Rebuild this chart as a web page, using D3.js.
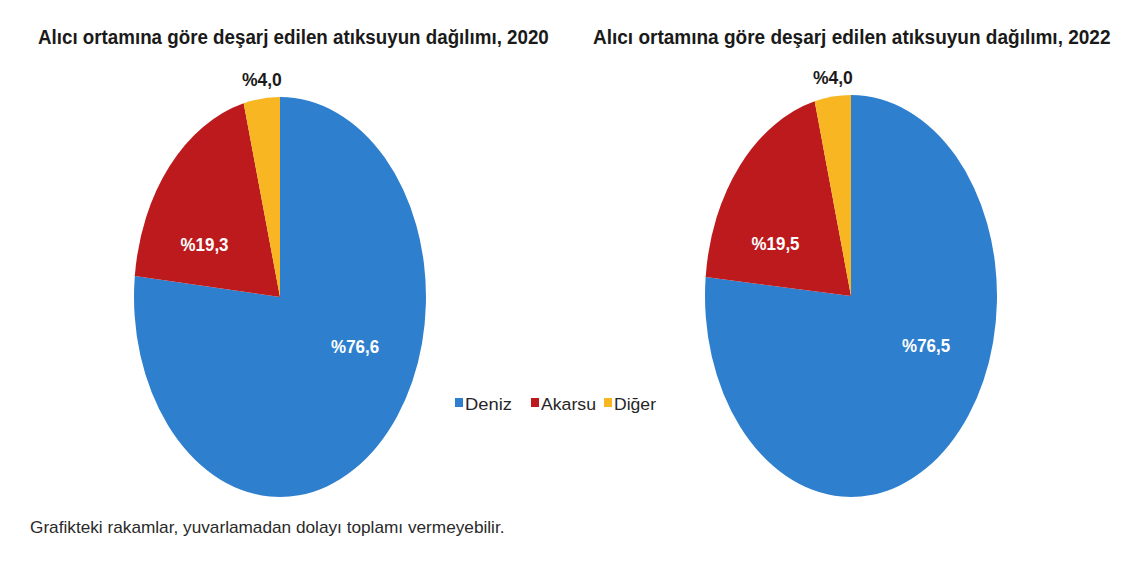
<!DOCTYPE html>
<html><head><meta charset="utf-8">
<script src="https://cdn.jsdelivr.net/npm/d3@7"></script>
<style>
body{margin:0;background:#fff;}
text{font-family:"Liberation Sans",Arial,sans-serif;}
</style></head>
<body><svg id="c" width="1140" height="570"></svg>
<script>
const categories = ["Deniz", "Akarsu", "Diğer"];
const years = ["2020", "2022"];
const values2020 = [76.6, 19.3, 4.0];
const values2022 = [76.5, 19.5, 4.0];
const titles = ["Alıcı ortamına göre deşarj edilen atıksuyun dağılımı, 2020",
                "Alıcı ortamına göre deşarj edilen atıksuyun dağılımı, 2022"];
const footnote = "Grafikteki rakamlar, yuvarlamadan dolayı toplamı vermeyebilir.";

const colors = d3.scaleOrdinal().domain(categories).range(["#2f7fcf", "#bd1a1d", "#f8b722"]);
const svg = d3.select("#c");
const fmt = v => "%" + v.toFixed(1).replace(".", ",");

// squeeze a text horizontally to a target width (narrow font look)
function fitText(sel, x, y, w) {
  sel.attr("x", 0).attr("y", 0);
  const nat = sel.node().getComputedTextLength();
  sel.attr("transform", `translate(${x},${y}) scale(${w / nat},1)`);
  return sel;
}

// layout
const pies = [
  {vals: values2020, cx: 280, cy: 297, rx: 146, ry: 200, tx: 38, tw: 511, ty: 44},
  {vals: values2022, cx: 851, cy: 296, rx: 146, ry: 201, tx: 593, tw: 518, ty: 44}
];
// label placement (angle deg clockwise from top, radius fraction, width) per slice
const labelPlace = [{a: 115.5, r: 0.57, w: 48}, {a: 297, r: 0.58, w: 48}, {a: 353.5, r: 1.095, w: 40}];

const R = 100;
const pie = d3.pie().sort(null).value(d => d);
const arc = d3.arc().innerRadius(0).outerRadius(R);

pies.forEach((p, i) => {
  const t = svg.append("text").attr("font-weight", "bold").attr("font-size", 21).attr("fill", "#1a1a1a")
    .text(titles[i]);
  fitText(t, p.tx, p.ty, p.tw);
  const g = svg.append("g").attr("transform", `translate(${p.cx},${p.cy}) scale(${p.rx / R},${p.ry / R})`);
  const arcs = pie(p.vals);
  g.selectAll("path").data(arcs).enter().append("path")
    .attr("d", arc).attr("fill", (d, j) => colors(categories[j]));
  const lg = svg.append("g").attr("transform", `translate(${p.cx},${p.cy})`);
  arcs.forEach((d, j) => {
    const lp = labelPlace[j];
    const a = lp.a * Math.PI / 180;
    const x = Math.sin(a) * lp.r * p.rx, y = -Math.cos(a) * lp.r * p.ry;
    const lt = lg.append("text").attr("dy", "0.36em")
      .attr("font-weight", "bold").attr("font-size", 18)
      .attr("fill", j === 2 ? "#1a1a1a" : "#ffffff")
      .text(fmt(d.data));
    fitText(lt, x - lp.w / 2, y, lp.w);
  });
});

// legend
const legX = [455, 531, 604];
const legW = [47, 55, 42];
const lgd = svg.append("g");
categories.forEach((c, j) => {
  lgd.append("rect").attr("x", legX[j]).attr("y", 398).attr("width", 8).attr("height", 9).attr("fill", colors(c));
  const lt = lgd.append("text").attr("font-size", 17).attr("fill", "#262626").text(c);
  fitText(lt, legX[j] + 10, 410, legW[j]);
});

const ft = svg.append("text").attr("font-size", 16).attr("fill", "#2a2a2a").text(footnote);
fitText(ft, 30, 533, 475);
</script></body></html>
